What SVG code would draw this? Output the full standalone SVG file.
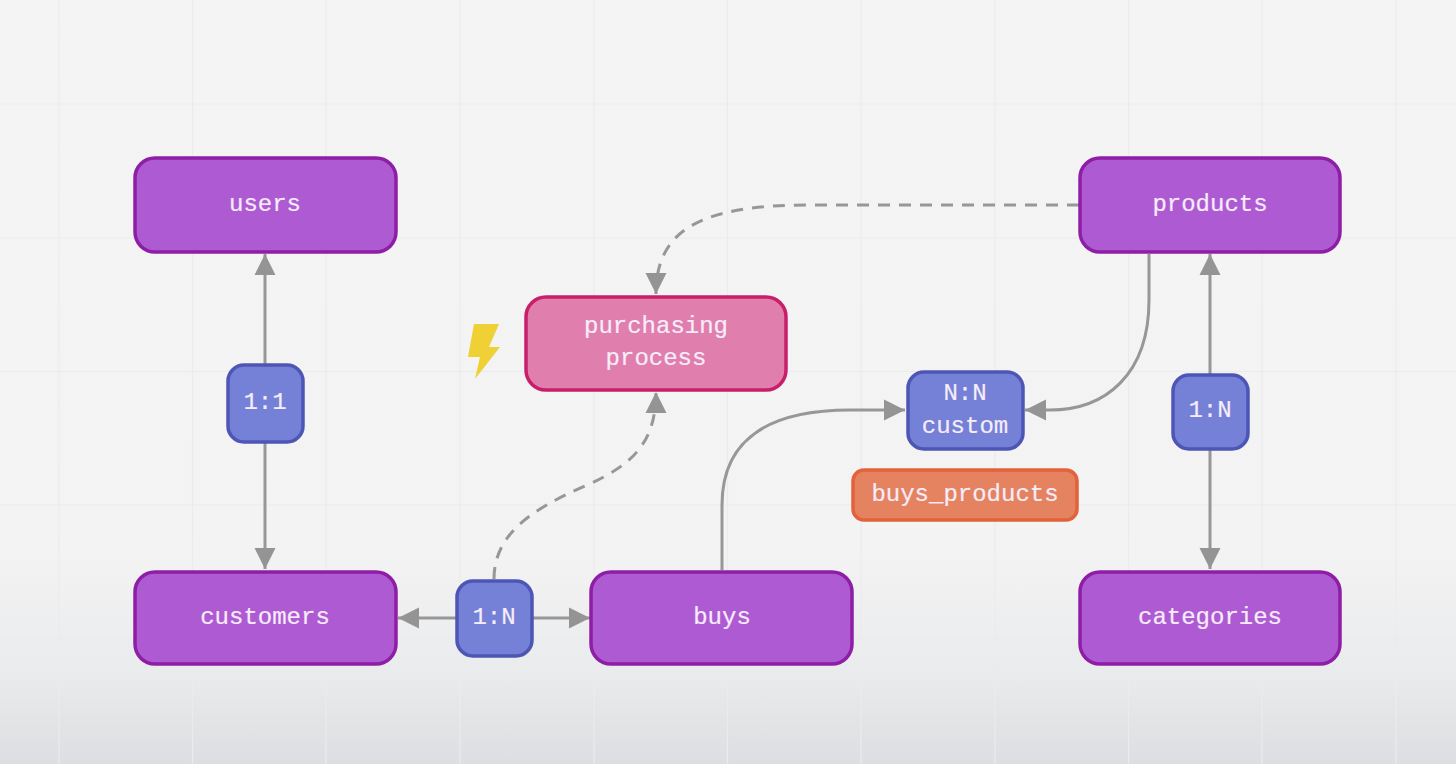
<svg xmlns="http://www.w3.org/2000/svg" width="1456" height="764" viewBox="0 0 1456 764">
<style>
.grid{stroke:#ebebed;stroke-width:1.2;fill:none}
.n{stroke-width:3.5}
.pu{fill:#ae5bd3;stroke:#8d1ea5}
.bl{fill:#7481d6;stroke:#4d55b5}
.pk{fill:#e07fae;stroke:#c71f69}
.or{fill:#e5825f;stroke:#e2623a}
text{font-family:"Liberation Mono","DejaVu Sans Mono",monospace;font-size:24px;fill:#f6ecfa;text-anchor:middle;stroke:#f6ecfa;stroke-width:.2}
.c{fill:none;stroke:#979797;stroke-width:3}
.d{stroke-dasharray:12 9}
</style>
<defs>
<linearGradient id="bg" x1="0" y1="0" x2="0" y2="1">
<stop offset="0" stop-color="#f4f4f5"/><stop offset=".72" stop-color="#f3f3f4"/><stop offset=".88" stop-color="#eaebec"/><stop offset="1" stop-color="#dddee1"/>
</linearGradient>
<marker id="a" markerUnits="userSpaceOnUse" markerWidth="24" markerHeight="24" refX="21" refY="12" orient="auto">
<path d="M0 1.500L21 12L0 22.500Z" fill="#949494"/>
</marker>
</defs>
<rect width="1456" height="764" fill="url(#bg)"/>
<g id="grid" class="grid">
<path d="M59 0V764M192.500 0V764M326 0V764M460 0V764M594 0V764M727.500 0V764M861 0V764M995 0V764M1128.500 0V764M1262 0V764M1396 0V764"/>
<path d="M0 104H1456M0 238H1456M0 371.500H1456M0 505H1456M0 638.500H1456"/>
</g>
<g id="connectors">
<path class="c" marker-end="url(#a)" d="M265 364V254"/>
<path class="c" marker-end="url(#a)" d="M265 442V569"/>
<path class="c" marker-end="url(#a)" d="M457 618H398"/>
<path class="c" marker-end="url(#a)" d="M531 618H590"/>
<path class="c" marker-end="url(#a)" d="M1210 374V254"/>
<path class="c" marker-end="url(#a)" d="M1210 449V569"/>
<path class="c" marker-end="url(#a)" d="M722 570V505C722 435 775 410 850 410H905"/>
<path class="c" marker-end="url(#a)" d="M1149 254V300C1149 375 1105 410 1050 410H1025"/>
<path class="c d" marker-end="url(#a)" d="M1079 205H810C700 205 656 230 656 294"/>
<path class="c d" marker-end="url(#a)" d="M494 579C494 535 530 510 585 486C630 466 656 445 656 392"/>
</g>
<g id="users"><rect class="n pu" x="135" y="158" width="261" height="94" rx="20"/><text x="265" y="211">users</text></g>
<g id="products"><rect class="n pu" x="1080" y="158" width="260" height="94" rx="20"/><text x="1210" y="211">products</text></g>
<g id="customers"><rect class="n pu" x="135" y="572" width="261" height="92" rx="20"/><text x="265" y="624">customers</text></g>
<g id="buys"><rect class="n pu" x="591" y="572" width="261" height="92" rx="20"/><text x="722" y="624">buys</text></g>
<g id="categories"><rect class="n pu" x="1080" y="572" width="260" height="92" rx="20"/><text x="1210" y="624">categories</text></g>
<g id="purchasing-process"><rect class="n pk" x="526" y="297" width="260" height="93" rx="20"/><text x="656" y="333">purchasing</text><text x="656" y="365">process</text></g>
<g id="lightning"><path d="M474 324H499L489 347H500L475 379L480 357H468Z" fill="#efd035"/></g>
<g id="rel-1-1"><rect class="n bl" x="228" y="365" width="75" height="77" rx="16"/><text x="265" y="409">1:1</text></g>
<g id="rel-1-n-left"><rect class="n bl" x="457" y="581" width="75" height="75" rx="16"/><text x="494" y="624">1:N</text></g>
<g id="rel-1-n-right"><rect class="n bl" x="1173" y="375" width="75" height="74" rx="16"/><text x="1210" y="417">1:N</text></g>
<g id="rel-n-n"><rect class="n bl" x="908" y="372" width="115" height="77" rx="16"/><text x="965" y="400">N:N</text><text x="965" y="433">custom</text></g>
<g id="buys-products"><rect class="n or" x="853" y="470" width="224" height="50" rx="11"/><text x="965" y="501">buys_products</text></g>
</svg>
